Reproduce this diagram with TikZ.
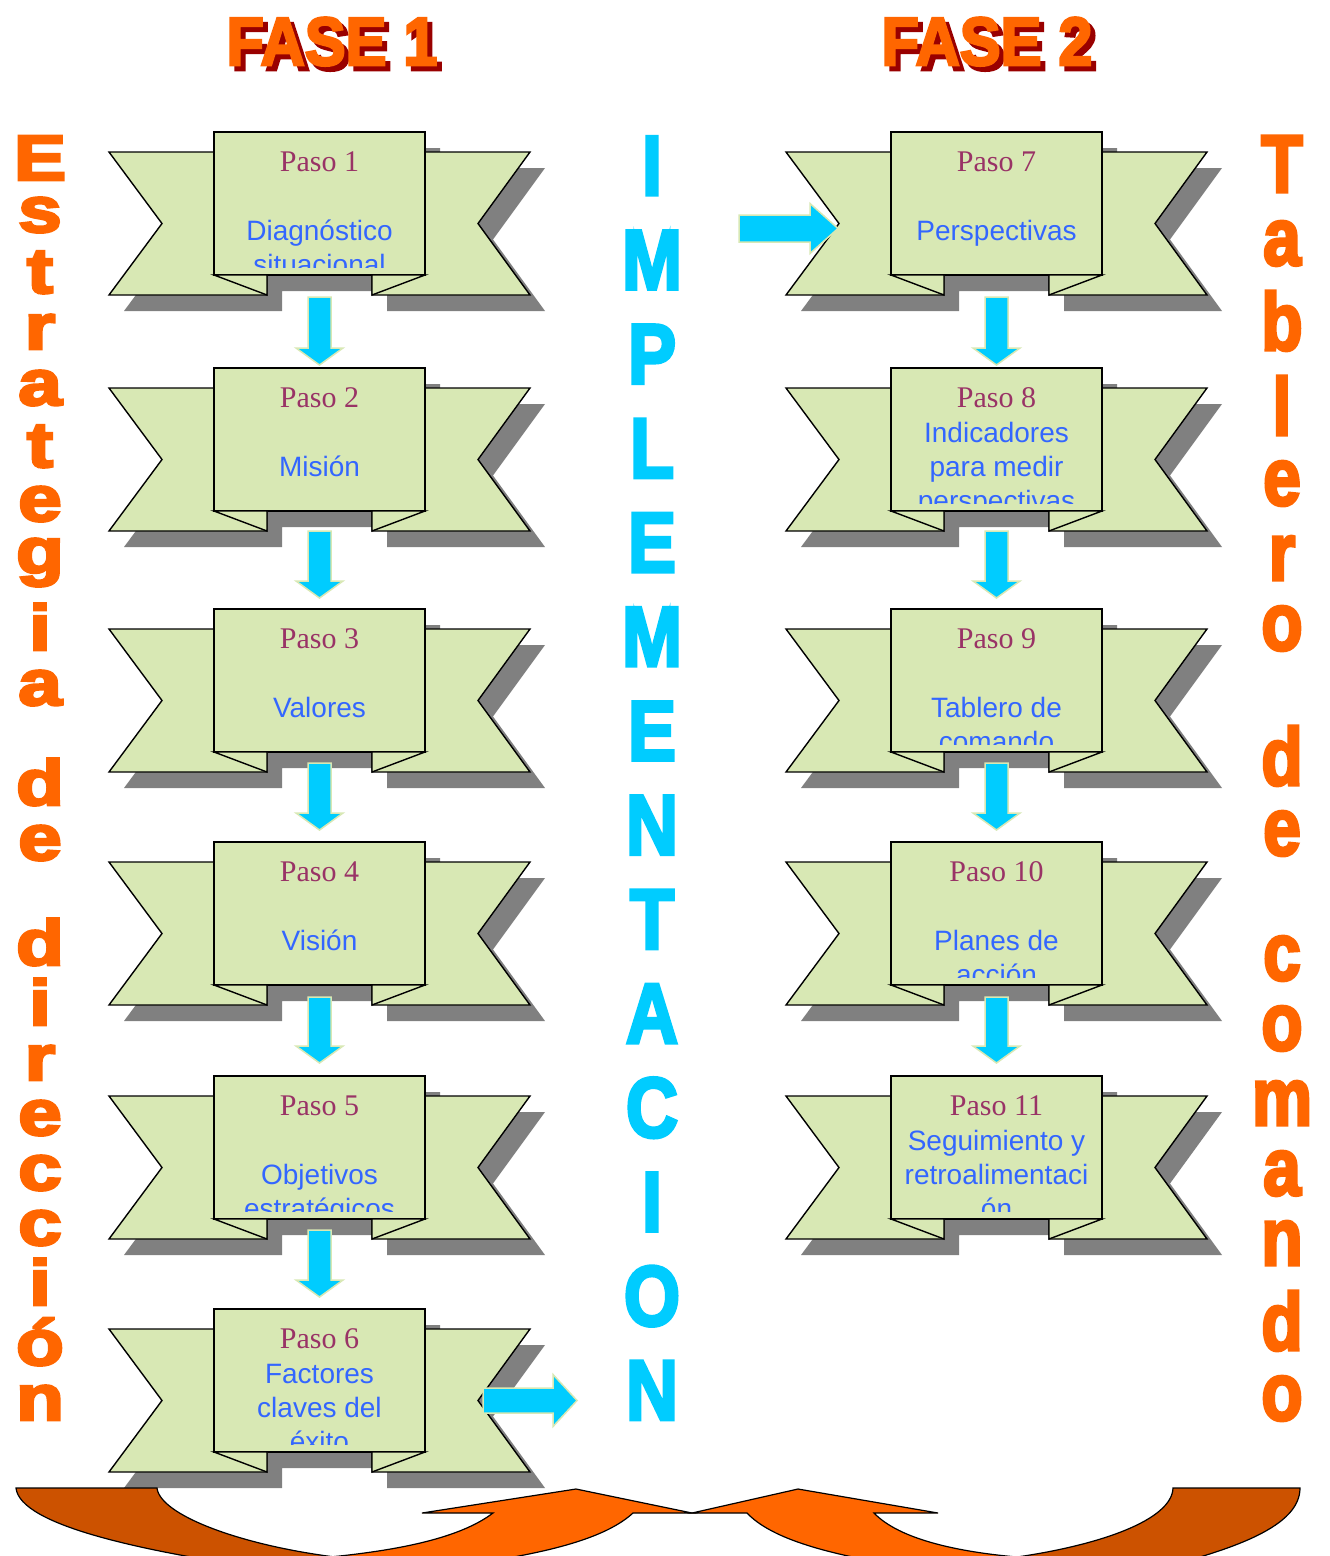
\documentclass[tikz,border=0pt]{standalone}
\usepackage{fontspec}
\usepackage{graphicx}
\usetikzlibrary{calc}
\setmainfont{Liberation Serif}
\newfontfamily\armfont{Liberation Sans}
\newfontfamily\heavyfont{Liberation Sans}[BoldFeatures={FakeBold=4}]

\definecolor{ribbongreen}{RGB}{216,232,180}
\definecolor{shadowgray}{RGB}{128,128,128}
\definecolor{arrowcyan}{RGB}{0,204,255}
\definecolor{pasored}{RGB}{153,51,102}
\definecolor{bodyblue}{RGB}{51,102,255}
\definecolor{bandorange}{RGB}{255,102,0}
\definecolor{banddark}{RGB}{204,82,0}
\definecolor{titleshadow}{RGB}{153,0,0}

\tikzset{
  ribbonpart/.style={fill=ribbongreen, draw=black, line width=1.4pt, line join=miter},
  ribbonshadow/.style={fill=shadowgray},
  stepbox/.style={rectangle, fill=ribbongreen, draw=black, line width=1.4pt,
    minimum width=211pt, minimum height=143pt, inner sep=0pt, outer sep=0pt},
  pasotext/.style={anchor=base, inner sep=0pt, text=pasored,
    font=\fontsize{30}{30}\selectfont},
  bodytext/.style={anchor=base, inner sep=0pt, text=bodyblue,
    font=\armfont\fontsize{28}{28}\selectfont},
  flowarrow/.style={fill=arrowcyan, draw=ribbongreen, line width=1.5pt, line join=miter},
  uturn/.style={draw=black, line width=1.2pt, line join=miter},
  titletext/.style={anchor=base, inner sep=0pt,
    font=\heavyfont\bfseries\fontsize{68}{68}\selectfont},
  leftletter/.style={anchor=base, inner sep=0pt, text=bandorange,
    font=\heavyfont\bfseries\fontsize{60}{60}\selectfont},
  rightletter/.style={anchor=base, inner sep=0pt, text=bandorange,
    font=\heavyfont\bfseries\fontsize{72}{72}\selectfont},
  midletter/.style={anchor=base, inner sep=0pt, text=arrowcyan,
    font=\heavyfont\bfseries\fontsize{85}{85}\selectfont},
}

% heading with a dark drop shadow set behind it
\newcommand\shadowtitle[1]{%
  \rlap{\hspace{5pt}\raisebox{-5pt}{\textcolor{titleshadow}{\scalebox{0.9}[1]{#1}}}}%
  \textcolor{bandorange}{\scalebox{0.9}[1]{#1}}}

% ribbon banner: #1 name, #2,#3 top-left of the central panel, #4-#7 text lines
\newcommand\ribbonstep[7]{%
  \begin{scope}[shift={(#2,#3)}]
    \fill[ribbonshadow, shift={(15,16)}] (-105,20) -- (0,20) -- (0,0) -- (211,0) -- (211,20)
      -- (316,20) -- (264,91.5) -- (316,163) -- (158,163) -- (158,143) -- (53,143)
      -- (53,163) -- (-105,163) -- (-52,91.5) -- cycle;
    \filldraw[ribbonpart] (53,20) -- (-105,20) -- (-52,91.5) -- (-105,163) -- (53,163) -- cycle;
    \filldraw[ribbonpart] (158,20) -- (316,20) -- (264,91.5) -- (316,163) -- (158,163) -- cycle;
    \node[stepbox, anchor=north west] (#1) at (0,0) {};
    \filldraw[ribbonpart] (0,143) -- (53,163) -- (53,143) -- cycle;
    \filldraw[ribbonpart] (211,143) -- (158,163) -- (158,143) -- cycle;
    \begin{scope}
      \clip (0,0) rectangle (211,135);
      \node[pasotext] (#1-a) at (105.5,39) {#4};
      \node[bodytext] (#1-b) at (105.5,74) {#5};
      \node[bodytext] (#1-c) at (105.5,108) {#6};
      \node[bodytext] (#1-d) at (105.5,142) {#7};
    \end{scope}
  \end{scope}}

% downward block arrow from panel #1 to panel #2 (#3 gap below, #4 gap above)
\newcommand\vlink[4]{%
  \filldraw[flowarrow] let \p1=(#1.south), \p2=(#2.north) in
    (\x1-11.5pt,\y1-#3pt) -- (\x1+11.5pt,\y1-#3pt) -- (\x1+11.5pt,\y2+#4pt+17pt)
    -- (\x1+23.5pt,\y2+#4pt+17pt) -- (\x1,\y2+#4pt) -- (\x1-23.5pt,\y2+#4pt+17pt)
    -- (\x1-11.5pt,\y2+#4pt+17pt) -- cycle;}

% rightward block arrow: #1 tail, #2 tip, #3 shaft half width, #4 head half width, #5 head length
\newcommand\hlink[5]{%
  \filldraw[flowarrow] let \p1=(#1), \p2=(#2) in
    (\x1,\y1+#3pt) -- (\x2-#5pt,\y1+#3pt) -- (\x2-#5pt,\y1+#4pt) -- (\x2,\y1)
    -- (\x2-#5pt,\y1-#4pt) -- (\x2-#5pt,\y1-#3pt) -- (\x1,\y1-#3pt) -- cycle;}

\begin{document}
\begin{tikzpicture}[x=1pt,y=-1pt]
  \path[use as bounding box] (0,0) rectangle (1330,1556);
  \clip (0,0) rectangle (1330,1556);
  \fill[white] (0,0) rectangle (1330,1556);

  % phase titles
  \node[titletext] (fase1) at (332,65) {\shadowtitle{FASE 1}};
  \node[titletext] (fase2) at (987,65) {\shadowtitle{FASE 2}};

  % vertical captions, one letter per line
  \foreach \ch/\yy [count=\i] in {E/180,s/232,t/293,r/349,a/405,t/467,e/521,g/573,
      i/650,a/705,d/805,e/860,d/965,i/1025,r/1080,e/1135,c/1190,c/1245,i/1305,ó/1365,n/1420}
    \node[leftletter] (izq-\i) at (40,\yy) {\scalebox{1.3}[1.07]{\ch}};
  \foreach \ch [count=\i from 0] in {I,M,P,L,E,M,E,N,T,A,C,I,O,N}
    \node[midletter] (mid-\i) at (652,195+\i*94.2) {\scalebox{0.85}[1]{\ch}};
  \foreach \ch/\yy [count=\i] in {T/192,a/265,b/350,l/435,e/505,r/580,o/650,d/785,e/855,
      c/980,o/1050,m/1125,a/1195,n/1265,d/1350,o/1420}
    \node[rightletter] (der-\i) at (1282,\yy) {\scalebox{0.94}[1.13]{\ch}};

  % phase 1 banners
  \ribbonstep{p1}{214}{132}{Paso 1}{}{Diagnóstico}{situacional}
  \ribbonstep{p2}{214}{368}{Paso 2}{}{Misión}{}
  \ribbonstep{p3}{214}{609}{Paso 3}{}{Valores}{}
  \ribbonstep{p4}{214}{842}{Paso 4}{}{Visión}{}
  \ribbonstep{p5}{214}{1076}{Paso 5}{}{Objetivos}{estratégicos}
  \ribbonstep{p6}{214}{1309}{Paso 6}{Factores}{claves del}{éxito}

  % phase 2 banners
  \ribbonstep{p7}{891}{132}{Paso 7}{}{Perspectivas}{}
  \ribbonstep{p8}{891}{368}{Paso 8}{Indicadores}{para medir}{perspectivas}
  \ribbonstep{p9}{891}{609}{Paso 9}{}{Tablero de}{comando}
  \ribbonstep{p10}{891}{842}{Paso 10}{}{Planes de}{acción}
  \ribbonstep{p11}{891}{1076}{Paso 11}{Seguimiento y}{retroalimentaci}{ón}

  % step-to-step arrows
  \vlink{p1}{p2}{22}{3}
  \vlink{p2}{p3}{20}{11}
  \vlink{p3}{p4}{11}{12}
  \vlink{p4}{p5}{12}{13}
  \vlink{p5}{p6}{11}{12}
  \vlink{p7}{p8}{22}{3}
  \vlink{p8}{p9}{20}{11}
  \vlink{p9}{p10}{11}{12}
  \vlink{p10}{p11}{12}{13}

  % arrows into and out of the implementation column
  \coordinate (h1s) at (739,228.5);
  \coordinate (h1e) at (838,228.5);
  \hlink{h1s}{h1e}{13.5}{25}{28}
  \coordinate (h2s) at (483,1400.5);
  \coordinate (h2e) at (577,1400.5);
  \hlink{h2s}{h2e}{12.5}{26}{24}

  % curved up arrows along the bottom
  \filldraw[uturn, fill=banddark] (16,1488) -- (157,1488)
    .. controls (160,1515) and (240,1545) .. (335,1557) -- (335,1575) -- (310,1575)
    .. controls (140,1553) and (20,1525) .. (16,1488) -- cycle;
  \filldraw[uturn, fill=bandorange] (330,1557)
    .. controls (400,1550) and (460,1538) .. (493,1513) -- (422,1513) -- (576,1489)
    -- (692,1513) -- (633,1513)
    .. controls (595,1548) and (500,1562) .. (380,1575) -- (330,1575) -- cycle;
  \filldraw[uturn, fill=banddark] (1300,1488) -- (1173,1488)
    .. controls (1172,1520) and (1100,1545) .. (1017,1557) -- (1017,1575) -- (1130,1575)
    .. controls (1240,1550) and (1300,1525) .. (1300,1488) -- cycle;
  \filldraw[uturn, fill=bandorange] (1017,1557)
    .. controls (960,1552) and (900,1540) .. (874,1513) -- (938,1513) -- (798,1489)
    -- (692,1513) -- (747,1513)
    .. controls (780,1548) and (870,1562) .. (960,1575) -- (1017,1575) -- cycle;
\end{tikzpicture}
\end{document}
